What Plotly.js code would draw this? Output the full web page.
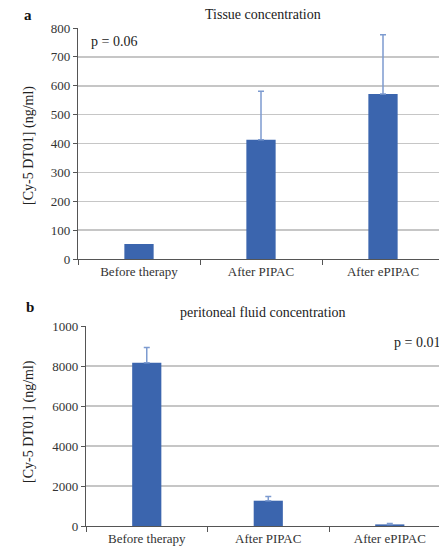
<!DOCTYPE html>
<html>
<head>
<meta charset="utf-8">
<script src="https://cdn.plot.ly/plotly-3.0.1.min.js"></script>
<style>html,body{margin:0;padding:0;background:#fff;}#chart{width:439px;height:546px;}</style>
</head>
<body>
<div id="chart"></div>
<script>
var categories = ["Before therapy", "After PIPAC", "After ePIPAC"];
var tissueMeans = [52, 413, 571];
var tissueErrUp = [NaN, 168, 206];
var tissueErrDown = [NaN, 0, 0];
var fluidMeans = [8160, 1265, 80];
var fluidErrUp = [770, 215, 40];
var fluidErrDown = [0, 0, 0];
var tissueTickVals = [0, 100, 200, 300, 400, 500, 600, 700, 800];
var tissueTickText = ["0", "100", "200", "300", "400", "500", "600", "700", "800"];
var fluidTickVals = [0, 2000, 4000, 6000, 8000, 10000];
var fluidTickText = ["0", "2000", "4000", "6000", "8000", "1000"];

var W = 439, H = 546;
function px(x) { return x / W; }
function py(y) { return 1 - y / H; }

var barColor = "#3b65ae";
var errColor = "#7d9bd0";
var serif = "Liberation Serif";

var traces = [
  {
    type: "bar", x: categories, y: tissueMeans, xaxis: "x", yaxis: "y",
    width: 0.24, marker: {color: barColor},
    error_y: {type: "data", symmetric: false, array: tissueErrUp, arrayminus: tissueErrDown, color: errColor, thickness: 1.5, width: 3},
    hoverinfo: "none"
  },
  {
    type: "bar", x: categories, y: fluidMeans, xaxis: "x2", yaxis: "y2",
    width: 0.24, marker: {color: barColor},
    error_y: {type: "data", symmetric: false, array: fluidErrUp, arrayminus: fluidErrDown, color: errColor, thickness: 1.5, width: 3},
    hoverinfo: "none"
  }
];

var axisFont = {family: serif, size: 13, color: "#333"};

var layout = {
  width: W, height: H,
  margin: {l: 0, r: 0, t: 0, b: 0, autoexpand: false},
  paper_bgcolor: "#fff", plot_bgcolor: "#fff",
  showlegend: false,
  font: {family: serif},
  xaxis: {
    domain: [px(78), 1], anchor: "y", range: [-0.5, 2.459],
    showgrid: false, showline: true, linecolor: "#555", linewidth: 1.2,
    ticks: "outside", tickson: "boundaries", ticklen: 5, tickcolor: "#555",
    tickfont: axisFont, zeroline: false, fixedrange: true
  },
  yaxis: {
    domain: [py(259), py(28)], anchor: "x", range: [0, 800],
    tickvals: tissueTickVals, ticktext: tissueTickText,
    showgrid: true, gridcolor: "#c6c6c6", gridwidth: 1.5,
    showline: true, linecolor: "#555", linewidth: 1.2,
    ticks: "outside", ticklen: 4, tickcolor: "#555",
    tickfont: axisFont, zeroline: false, fixedrange: true
  },
  xaxis2: {
    domain: [px(86), 1], anchor: "y2", range: [-0.5, 2.405],
    showgrid: false, showline: true, linecolor: "#555", linewidth: 1.2,
    ticks: "outside", tickson: "boundaries", ticklen: 5, tickcolor: "#555",
    tickfont: axisFont, zeroline: false, fixedrange: true
  },
  yaxis2: {
    domain: [py(526), py(326)], anchor: "x2", range: [0, 10000],
    tickvals: fluidTickVals, ticktext: fluidTickText,
    showgrid: true, gridcolor: "#c6c6c6", gridwidth: 1.5,
    showline: true, linecolor: "#555", linewidth: 1.2,
    ticks: "outside", ticklen: 4, tickcolor: "#555",
    tickfont: axisFont, zeroline: false, fixedrange: true
  },
  annotations: [
    {text: "<b>a</b>", x: px(28), y: py(15), xanchor: "center", yanchor: "middle", xref: "paper", yref: "paper", showarrow: false, font: {family: serif, size: 15, color: "#111"}},
    {text: "Tissue concentration", x: px(263), y: py(14), xanchor: "center", yanchor: "middle", xref: "paper", yref: "paper", showarrow: false, font: {family: serif, size: 14, color: "#222"}},
    {text: "p = 0.06", x: px(89), y: py(42), xanchor: "left", yanchor: "middle", xref: "paper", yref: "paper", showarrow: false, font: {family: serif, size: 14, color: "#222"}},
    {text: "[Cy-5 DT01] (ng/ml)", x: px(29), y: py(146), xanchor: "center", yanchor: "middle", xref: "paper", yref: "paper", showarrow: false, textangle: -90, font: {family: serif, size: 14, color: "#222"}},
    {text: "<b>b</b>", x: px(30), y: py(307), xanchor: "center", yanchor: "middle", xref: "paper", yref: "paper", showarrow: false, font: {family: serif, size: 15, color: "#111"}},
    {text: "peritoneal fluid concentration", x: px(263), y: py(312), xanchor: "center", yanchor: "middle", xref: "paper", yref: "paper", showarrow: false, font: {family: serif, size: 14, color: "#222"}},
    {text: "p = 0.01", x: px(392), y: py(342), xanchor: "left", yanchor: "middle", xref: "paper", yref: "paper", showarrow: false, font: {family: serif, size: 14, color: "#222"}},
    {text: "[Cy-5 DT01 ] (ng/ml)", x: px(29), y: py(422), xanchor: "center", yanchor: "middle", xref: "paper", yref: "paper", showarrow: false, textangle: -90, font: {family: serif, size: 14, color: "#222"}}
  ]
};

Plotly.newPlot("chart", traces, layout, {staticPlot: true, displayModeBar: false});
</script>
</body>
</html>
